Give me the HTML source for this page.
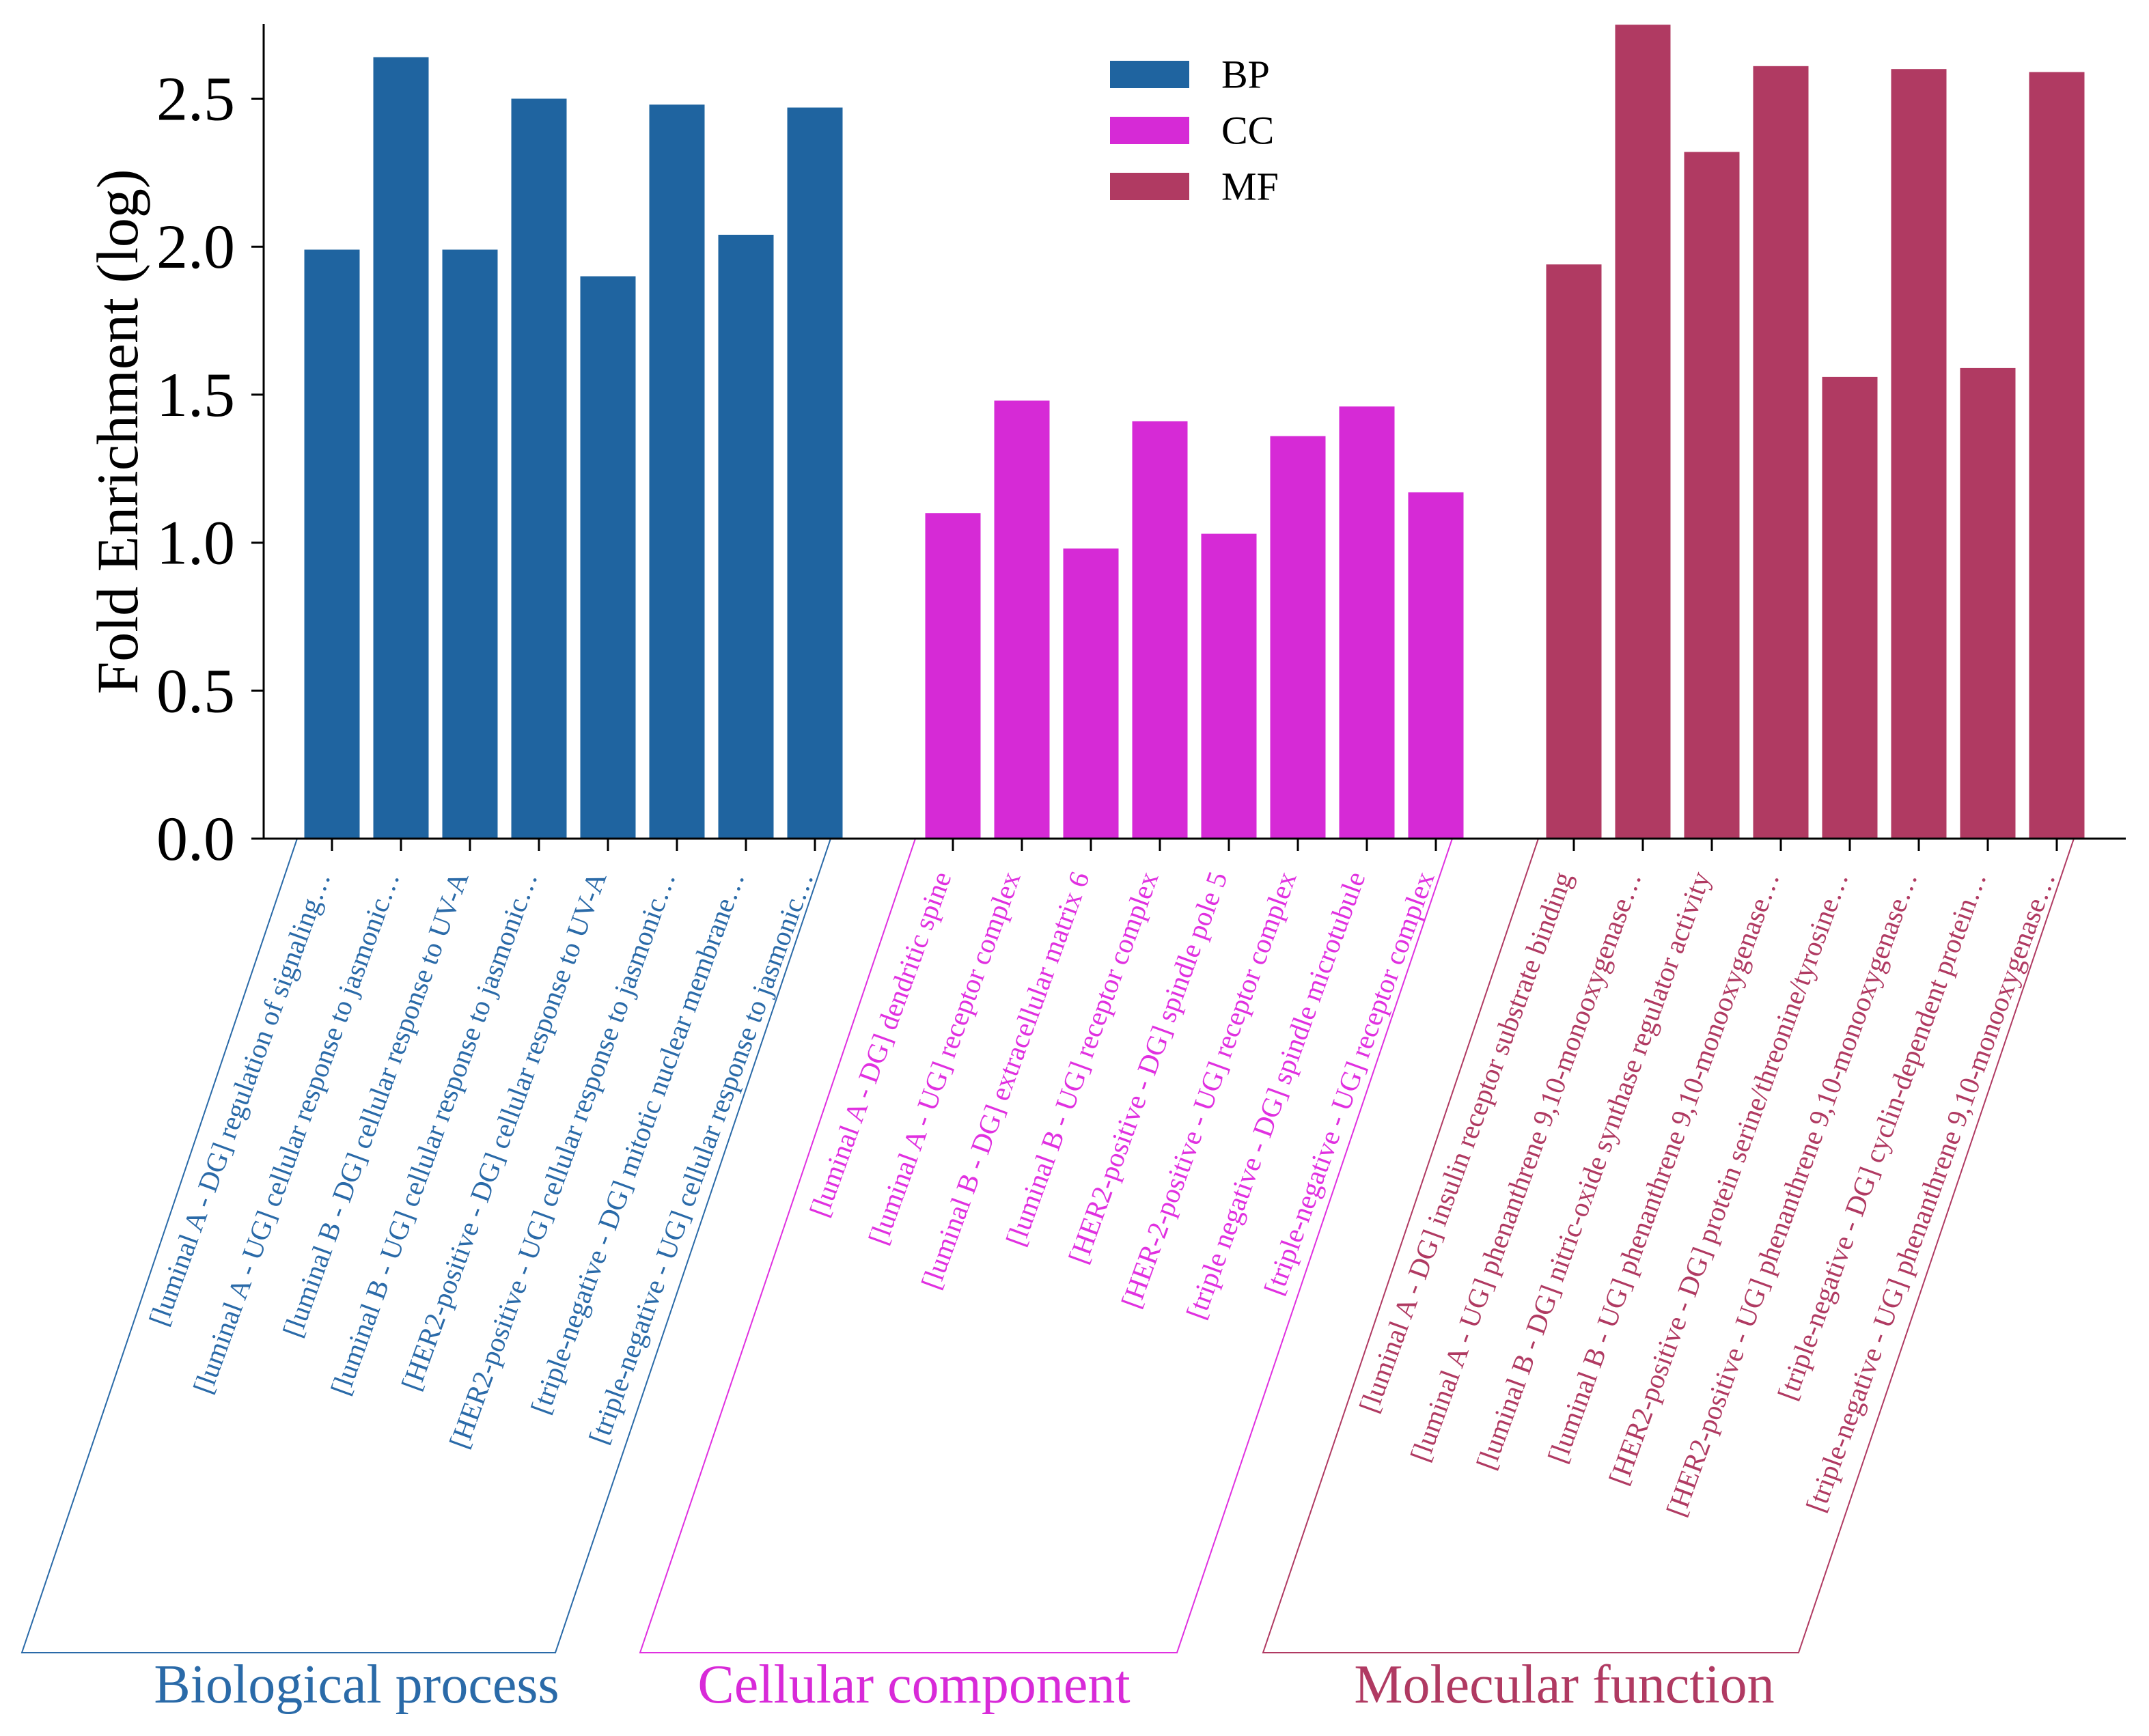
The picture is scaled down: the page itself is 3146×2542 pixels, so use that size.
<!DOCTYPE html>
<html><head><meta charset="utf-8"><style>
html,body{margin:0;padding:0;background:#fff;}
svg{display:block;font-family:"Liberation Serif",serif;}
</style></head><body>
<svg id="chart" width="3146" height="2542" viewBox="0 0 3146 2542" xmlns="http://www.w3.org/2000/svg"></svg>
<script>
const bpValues=[1.99,2.64,1.99,2.50,1.90,2.48,2.04,2.47];
const ccValues=[1.10,1.48,0.98,1.41,1.03,1.36,1.46,1.17];
const mfValues=[1.94,2.75,2.32,2.61,1.56,2.60,1.59,2.59];
const bpLabels=["[luminal A - DG] regulation of signaling…","[luminal A - UG] cellular response to jasmonic…","[luminal B - DG] cellular response to UV-A","[luminal B - UG] cellular response to jasmonic…","[HER2-positive - DG] cellular response to UV-A","[HER2-positive - UG] cellular response to jasmonic…","[triple-negative - DG] mitotic nuclear membrane…","[triple-negative - UG] cellular response to jasmonic…"];
const ccLabels=["[luminal A - DG] dendritic spine","[luminal A - UG] receptor complex","[luminal B - DG] extracellular matrix 6","[luminal B - UG] receptor complex","[HER2-positive - DG] spindle pole 5","[HER-2-positive - UG] receptor complex","[triple negative - DG] spindle microtubule","[triple-negative - UG] receptor complex"];
const mfLabels=["[luminal A - DG] insulin receptor substrate binding","[luminal A - UG] phenanthrene 9,10-monooxygenase…","[luminal B - DG] nitric-oxide synthase regulator activity","[luminal B - UG] phenanthrene 9,10-monooxygenase…","[HER2-positive - DG] protein serine/threonine/tyrosine…","[HER2-positive - UG] phenanthrene 9,10-monooxygenase…","[triple-negative - DG] cyclin-dependent protein…","[triple-negative - UG] phenanthrene 9,10-monooxygenase…"];
const yTicks=[0,0.5,1.0,1.5,2.0,2.5];
const yTickLabels=["0.0","0.5","1.0","1.5","2.0","2.5"];
const groupNames=["Biological process","Cellular component","Molecular function"];
const legendNames=["BP","CC","MF"];

const NS="http://www.w3.org/2000/svg";
const svg=document.getElementById('chart');
function mk(tag,attrs,parent){const e=document.createElementNS(NS,tag);for(const k in attrs)e.setAttribute(k,attrs[k]);(parent||svg).appendChild(e);return e;}
const X0=386,X1=3112,BASE=1228,UNIT=433.4,SLOT=101,FIRST=486,BW=81;
const xPos=i=>FIRST+SLOT*i;
const yPos=v=>BASE-UNIT*v;
const groups=[
 {vals:bpValues,labs:bpLabels,color:"#1f64a0",lc:"#2a6aa8",start:0,key:"bp",title:groupNames[0],tx:522,tc:"#2a6aa8",px:[435,1216]},
 {vals:ccValues,labs:ccLabels,color:"#d62ad6",lc:"#e030e0",start:9,key:"cc",title:groupNames[1],tx:1338,tc:"#d82ad8",px:[1340,2126]},
 {vals:mfValues,labs:mfLabels,color:"#b03a62",lc:"#b03a62",start:18,key:"mf",title:groupNames[2],tx:2290,tc:"#b03a62",px:[2252,3036]}
];
groups.forEach(g=>{
  const gEl=mk('g',{});
  
  
  g.vals.forEach((v,i)=>{
    const cx=xPos(g.start+i);
    const r=mk('rect',{x:cx-BW/2,y:yPos(v),width:BW,height:BASE-yPos(v),fill:g.color},gEl);
    
    
    const t=mk('line',{x1:cx,x2:cx,y1:BASE,y2:BASE+18,stroke:"#000","stroke-width":3},gEl);
    
    
    const tx=mk('text',{transform:`translate(${cx-15},${BASE+50}) rotate(-70)`,"text-anchor":"end","dominant-baseline":"central","font-size":41,fill:g.lc},gEl);
    tx.textContent=g.labs[i];
    
    
  });
  const off=403;
  const p=mk('polygon',{points:`${g.px[0]},${BASE} ${g.px[1]},${BASE} ${g.px[1]-off},2420 ${g.px[0]-off},2420`,fill:"none",stroke:g.lc,"stroke-width":2},gEl);
  
  
  const tt=mk('text',{x:g.tx,y:2493,"text-anchor":"middle","font-size":80,fill:g.tc},gEl);
  tt.textContent=g.title;
  
  
});
const ax=mk('line',{x1:X0,x2:X0,y1:35,y2:BASE+1.5,stroke:"#000","stroke-width":3});


const bx=mk('line',{x1:X0-1.5,x2:X1,y1:BASE,y2:BASE,stroke:"#000","stroke-width":3});


yTicks.forEach((v,i)=>{
  const l=mk('line',{x1:X0-18,x2:X0,y1:yPos(v),y2:yPos(v),stroke:"#000","stroke-width":3});
  
  
  const t=mk('text',{x:344,y:yPos(v),"text-anchor":"end","dominant-baseline":"central","font-size":92,fill:"#000"});
  t.textContent=yTickLabels[i];
  
  
});
const yt=mk('text',{transform:"translate(172,632) rotate(-90)","text-anchor":"middle","dominant-baseline":"central","font-size":86,fill:"#000"});
yt.textContent="Fold Enrichment (log)";


const legColors=["#1f64a0","#d62ad6","#b03a62"];
legendNames.forEach((n,i)=>{
  const cy=109+82*i;
  const r=mk('rect',{x:1625,y:cy-20,width:116,height:40,fill:legColors[i]});
  
  
  const t=mk('text',{x:1788,y:cy,"dominant-baseline":"central","font-size":58,fill:"#000"});
  t.textContent=n;
  
  
});
</script>
</body></html>
